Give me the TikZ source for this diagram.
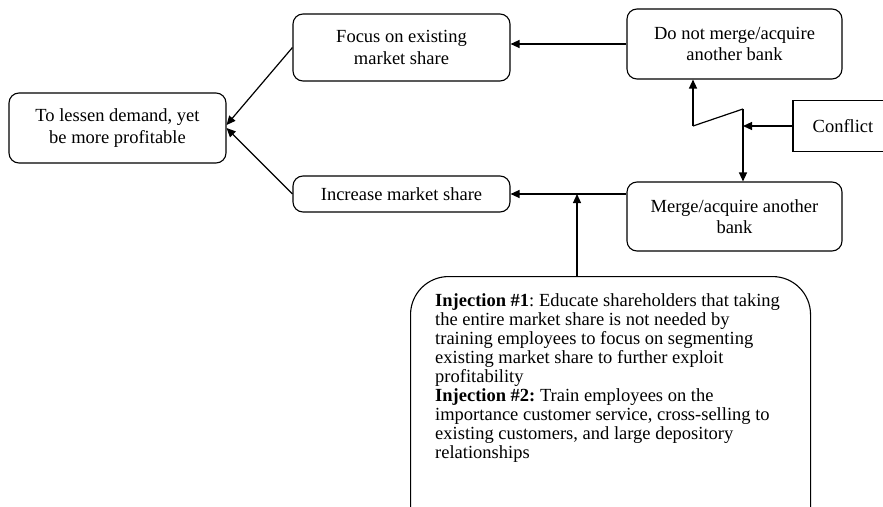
\documentclass[tikz,border=0pt]{standalone}
\usepackage{fontspec}
\setmainfont{Liberation Serif}
\usetikzlibrary{arrows.meta}
\frenchspacing

\begin{document}
\begin{tikzpicture}[x=1pt, y=-1pt,
    box/.style={draw, line width=1.1pt, rounded corners=10pt, align=center,
      inner sep=2pt, font=\fontsize{18.5}{21.5}\selectfont},
    arr/.style={line width=1.2pt, -{Triangle[length=9pt,width=8pt]}},
    line/.style={line width=1.2pt}]
    \useasboundingbox (0, 0) rectangle (883, 506);

    \node[box, minimum width=217, minimum height=70] (goal) at (117.5, 128) {To lessen demand, yet\\be more profitable};
    \node[box, minimum width=217, minimum height=67] (focus) at (401.5, 47.5) {Focus on existing\\market share};
    \node[box, minimum width=217, minimum height=36] (increase) at (401.5, 194) {Increase market share};
    \node[box, minimum width=215, minimum height=70] (notmerge) at (734.5, 44) {Do not merge/acquire\\another bank};
    \node[box, minimum width=215, minimum height=69] (merge) at (734.5, 216.5) {Merge/acquire another\\bank};
    \node[box, rounded corners=0pt, minimum width=100, minimum height=51] (conflict) at (843, 126) {Conflict};

    % injection box runs past the bottom edge
    \node[draw, line width=1.1pt, rounded corners=38pt, minimum width=400, minimum height=270,
      anchor=north west] (inject) at (410, 276) {};
    \node[anchor=north west, align=left, inner sep=0pt,
      font=\fontsize{18.5}{19}\selectfont] (injtext) at (435, 293)
      {\textbf{Injection \#1}: Educate shareholders that taking\\
       the entire market share is not needed by\\
       training employees to focus on segmenting\\
       existing market share to further exploit\\
       profitability\\
       \textbf{Injection \#2:} Train employees on the\\
       importance customer service, cross-selling to\\
       existing customers, and large depository\\
       relationships};

    \coordinate (jn) at (577, 194);
    \coordinate (zl) at (693, 126);
    \coordinate (zr) at (743, 109);

    \draw[arr] (focus.west) -- ([yshift=3pt]goal.east);
    \draw[arr] (increase.west) -- (goal.east);
    \draw[arr] (notmerge.west |- 0, 44) -- (focus.east |- 0, 44);
    \draw[arr] (increase.east -| merge.west) -- (increase.east);
    \draw[arr] (inject.north -| jn) -- (jn);
    \draw[arr] (zl) -- (zl |- notmerge.south);
    \draw[line] (zl) -- (zr);
    \draw[arr] (zr) -- (zr |- merge.north);
    \draw[arr] (conflict.west) -- (zr |- conflict.west);
\end{tikzpicture}
\end{document}
